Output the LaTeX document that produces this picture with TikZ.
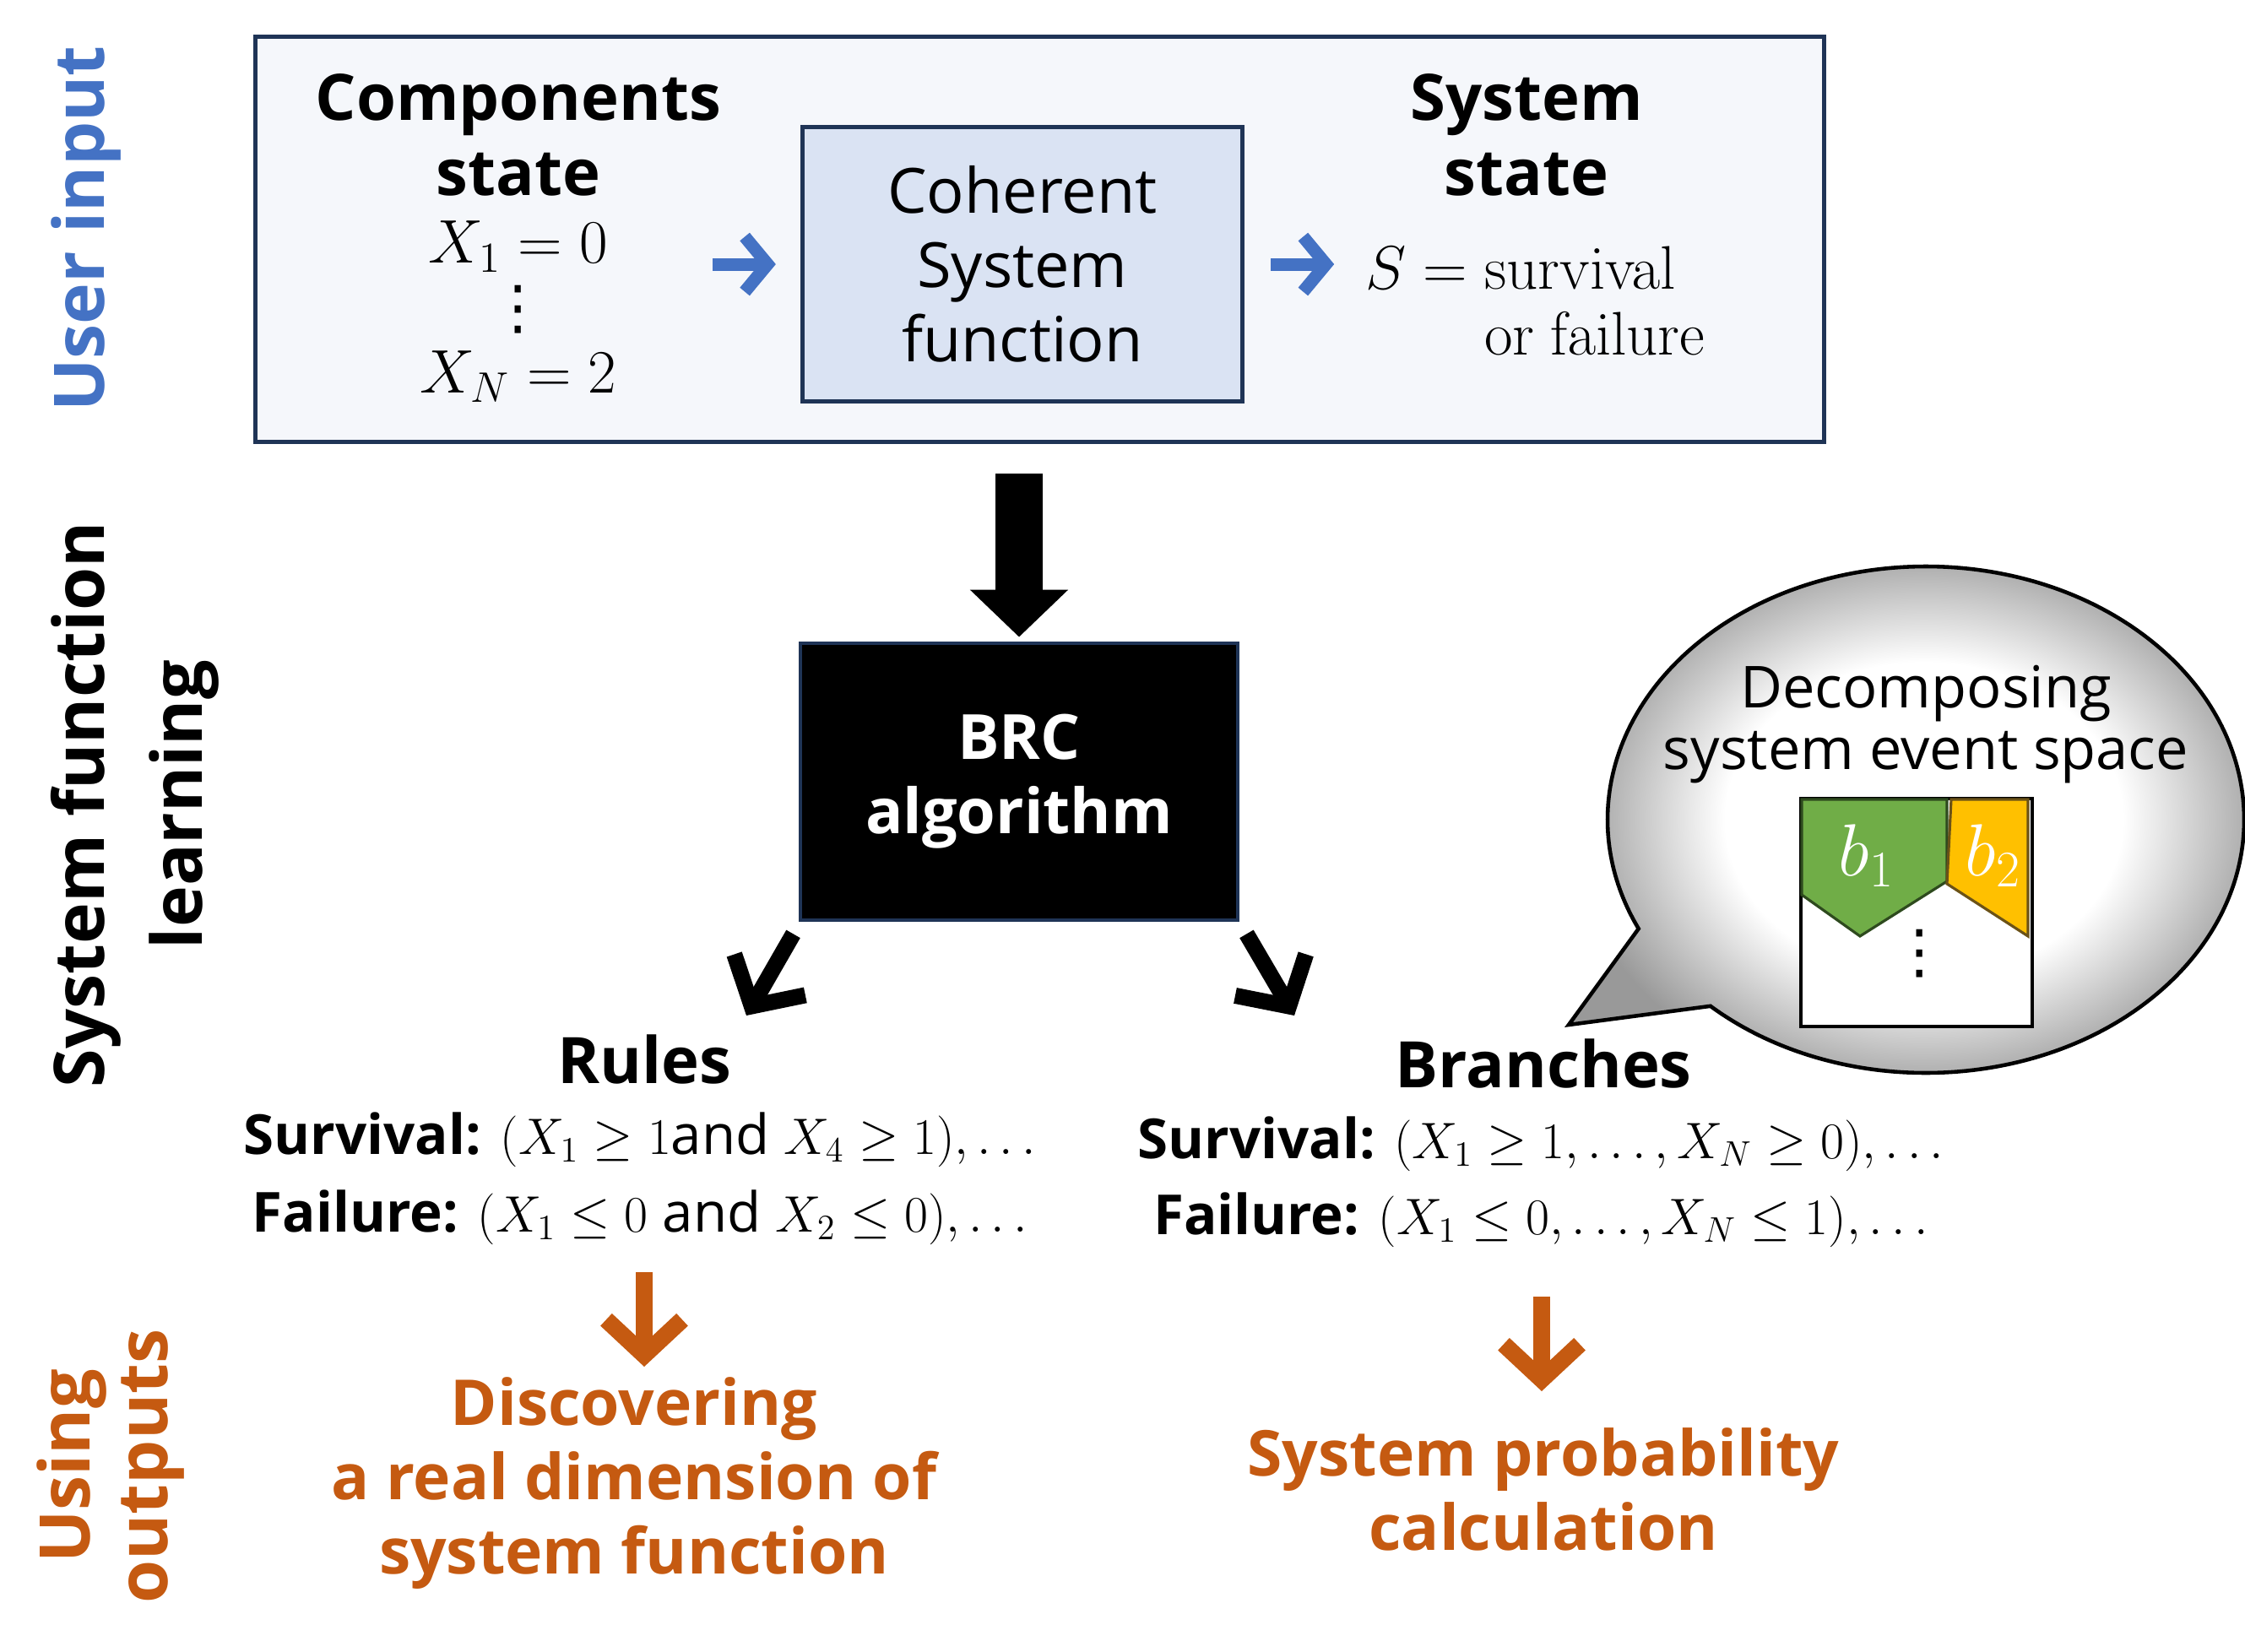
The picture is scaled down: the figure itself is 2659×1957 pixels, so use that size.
\documentclass[tikz,border=0pt]{standalone}
\usepackage[no-math]{fontspec}
\setmainfont{Open Sans}
\newfontfamily\symfont{DejaVu Sans}
\usepackage{amsmath}
\usetikzlibrary{arrows.meta}

\definecolor{uiblue}{HTML}{4472C4}
\definecolor{navy}{HTML}{1F3456}
\definecolor{boxfill}{HTML}{F5F7FB}
\definecolor{funcfill}{HTML}{DAE3F3}
\definecolor{outorange}{HTML}{C55A11}
\definecolor{brgreen}{HTML}{70AD47}
\definecolor{brgreenline}{HTML}{2E4A1E}
\definecolor{bryellow}{HTML}{FFC000}
\definecolor{bryellowline}{HTML}{6B5217}
\colorlet{bubgray}{black!40}
\pgfdeclareradialshading{bubble}{\pgfpoint{0bp}{0bp}}{color(0bp)=(white); color(14bp)=(white); color(25bp)=(bubgray); color(50bp)=(bubgray)}

\begin{document}
\begin{tikzpicture}[x=0.01cm,y=-0.01cm,
  hdr/.style={font=\fontsize{21.6}{25.5}\selectfont\bfseries,align=center},
  body/.style={font=\fontsize{21}{25}\selectfont,align=center},
  rule/.style={font=\fontsize{18.6}{22}\selectfont},
  outtxt/.style={font=\fontsize{21.3}{25}\selectfont\bfseries,align=center,text=outorange},
  side/.style={rotate=90,font=\fontsize{23.5}{26}\selectfont\bfseries,align=center},
  dotcol/.style={font=\fontsize{20}{22}\selectfont\symfont,inner sep=0pt},
  bluearrow/.style={uiblue,line width=0.15cm,-{Straight Barb[length=0.27cm,width=0.65cm]}},
  outarrow/.style={outorange,line width=0.2cm,-{Straight Barb[length=0.42cm,width=0.9cm]}},
  diagarrow/.style={line width=0.19cm,-{Straight Barb[length=0.43cm,width=0.97cm]}}]

\useasboundingbox (0,0) rectangle (2659,1957);

% side labels
\node (lab1) [side,text=uiblue] at (102,271) {User input};
\node (lab2) [side,font=\fontsize{23.5}{33}\selectfont\bfseries] at (160,953) {System function\\learning};
\node (lab3) [side,text=outorange] at (131,1737) {Using\\outputs};

% user input
\node (inbox) [draw=navy,fill=boxfill,line width=1.3pt,minimum width=18.57cm,minimum height=4.8cm,anchor=north west] at (300,41) {};
\node (comp) [hdr] at (614,160) {Components\\state};
\node (xone) [body,inner sep=0pt] at (614,292) {$X_1 = 0$};
\node (xdots) [dotcol] at (614,367) {⋮};
\node (xn) [body,inner sep=0pt] at (614,446) {$X_N = 2$};
\node (func) [body,draw=navy,fill=funcfill,line width=1.4pt,minimum width=5.21cm,minimum height=3.24cm] at (1211,313) {Coherent\\System\\function};
\node (sys) [hdr] at (1808,160) {System\\state};
\node (sval) [body,anchor=west] at (1605,317) {$S = \mathrm{survival}$};
\node (sor) [body,anchor=east] at (2032,395) {$\mathrm{or\ failure}$};
\draw[bluearrow] ([xshift=-1.04cm]func.west) -- ([xshift=-0.29cm]func.west);
\draw[bluearrow] ([xshift=0.31cm]func.east) -- ([xshift=1.06cm]func.east);

% learning
\node (brc) [body,font=\fontsize{21}{25}\selectfont\bfseries,draw=navy,fill=black,text=white,line width=1.3pt,minimum width=5.18cm,minimum height=3.28cm] at (1207,926) {BRC\\algorithm};
\draw[line width=0.56cm,-{Triangle[length=0.56cm,width=1.13cm]},shorten <=0.35cm,shorten >=0.05cm] (brc.north |- inbox.south) -- (brc.north);
\coordinate (ltip) at (884,1203);
\coordinate (rtip) at (1533,1203);
\draw[diagarrow] ([shift={(-6,14)}]brc.south west) -- (ltip);
\draw[diagarrow] ([shift={(8,14)}]brc.south east) -- (rtip);

\node (rules) [hdr] at (763,1255) {Rules};
\node (rsurv) [rule] at (758,1350) {\textbf{Survival:} $(X_1 \geq 1$and $X_4 \geq 1), \ldots$};
\node (rfail) [rule] at (758,1442) {\textbf{Failure:} $(X_1 \leq 0$ and $X_2 \leq 0), \ldots$};
\node (branch) [hdr] at (1828,1260) {Branches};
\node (bsurv) [rule] at (1825,1355) {\textbf{Survival:} $(X_1 \geq 1, \ldots, X_N \geq 0), \ldots$};
\node (bfail) [rule] at (1825,1445) {\textbf{Failure:} $(X_1 \leq 0, \ldots, X_N \leq 1), \ldots$};

% speech bubble
\coordinate (bub) at (2281,971);
\coordinate (btip) at (1858,1214);
\shadedraw[shading=bubble,draw=black,line width=1.3pt] (bub) ++(132.6:377 and 300) arc[start angle=132.6,end angle=-205.5,x radius=377,y radius=300] -- (btip) -- cycle;
\node (dec) [font=\fontsize{19.5}{21}\selectfont,align=center] at (2281,858) {Decomposing\\system event space};
\node (space) [draw=black,fill=white,line width=1.2pt,minimum width=2.74cm,minimum height=2.7cm,anchor=north west] at (2131,944) {};
\filldraw[fill=brgreen,draw=brgreenline,line width=0.9pt] (2134,947) -- (2306,947) -- (2306,1044) -- (2203,1109) -- (2134,1060) -- cycle;
\filldraw[fill=bryellow,draw=bryellowline,line width=0.9pt] (2311,947) -- (2402,947) -- (2402,1109) -- (2306,1047) -- cycle;
\node (bone) [text=white,font=\fontsize{24}{28}\selectfont,inner sep=0pt] at (2211,1014) {$b_1$};
\node (btwo) [text=white,font=\fontsize{24}{28}\selectfont,inner sep=0pt] at (2361,1014) {$b_2$};
\node (bdots) [dotcol] at (2274,1130) {⋮};

% outputs
\coordinate (otop1) at (763,1507);
\coordinate (otip1) at (763,1619);
\coordinate (otop2) at (1826,1536);
\coordinate (otip2) at (1826,1648);
\draw[outarrow] (otop1) -- (otip1);
\draw[outarrow] (otop2) -- (otip2);
\node (disc) [outtxt] at (751,1757) {Discovering\\a real dimension of\\system function};
\node (prob) [outtxt] at (1828,1764) {System probability\\calculation};
\end{tikzpicture}
\end{document}
